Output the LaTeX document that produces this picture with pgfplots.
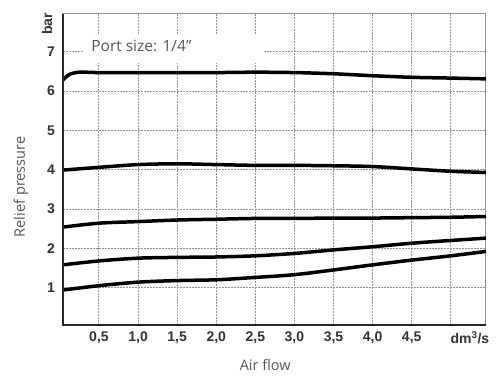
\documentclass[border=0pt]{standalone}
\usepackage{pgfplots}
\pgfplotsset{compat=1.18}
\usepackage{fontspec}
\setmainfont{Open Sans}
\newfontfamily\tickfont{Liberation Sans}
\definecolor{gridc}{HTML}{9A9090}
\definecolor{tickc}{HTML}{333333}
\definecolor{labc}{HTML}{555555}
\begin{document}
\begin{tikzpicture}[x=1pt,y=1pt]
\useasboundingbox (0,0) rectangle (498,381);
\begin{axis}[
  at={(63pt,56pt)}, anchor=south west,
  scale only axis, width=423pt, height=311pt,
  clip=false,
  xmin=0.04, xmax=5.45, ymin=0.05, ymax=7.96,
  xtick={0.5,1,1.5,2,2.5,3,3.5,4,4.5,5},
  xticklabels={{0,5},{1,0},{1,5},{2,0},{2,5},{3,0},{3,5},{4,0},{4,5},{}},
  ytick={1,2,3,4,5,6,7},
  yticklabels={1,2,3,4,5,6,7},
  major tick length=0pt,
  grid=major,
  grid style={gridc, line width=1pt, dash pattern=on 2pt off 1pt},
  axis line style={gridc, line width=1pt},
  tick label style={font=\tickfont\bfseries\fontsize{14}{14}\selectfont, text=tickc},
  xticklabel style={anchor=center, yshift=-13pt},
  yticklabel style={anchor=center, xshift=-12pt},
  xlabel={Air flow}, ylabel={Relief pressure},
  label style={font=\fontsize{14.5}{14.5}\selectfont, text=labc},
  xlabel style={at={(rel axis cs:0.478,0)}, anchor=center, yshift=-40pt},
  ylabel style={at={(rel axis cs:0,0.444)}, anchor=center, yshift=42pt},
]
\addplot[black, line width=3.5pt, smooth, tension=0.5] coordinates {
(0.04,6.28) (0.12,6.42) (0.25,6.48) (0.5,6.47) (1.0,6.47) (1.5,6.47) (2.0,6.47) (2.5,6.48) (3.0,6.47) (3.5,6.44) (4.0,6.39) (4.5,6.35) (5.0,6.33) (5.45,6.31)};
\addplot[black, line width=3.5pt, smooth, tension=0.5] coordinates {
(0.04,3.99) (0.5,4.06) (1.0,4.13) (1.5,4.15) (2.0,4.13) (2.5,4.11) (3.0,4.11) (3.5,4.10) (4.0,4.08) (4.5,4.02) (5.0,3.96) (5.45,3.93)};
\addplot[black, line width=3.5pt, smooth, tension=0.5] coordinates {
(0.04,2.54) (0.5,2.64) (1.0,2.68) (1.5,2.72) (2.0,2.74) (2.5,2.76) (3.0,2.76) (3.5,2.77) (4.0,2.77) (4.5,2.78) (5.0,2.79) (5.45,2.81)};
\addplot[black, line width=3.5pt, smooth, tension=0.5] coordinates {
(0.04,1.58) (0.5,1.68) (1.0,1.75) (1.5,1.77) (2.0,1.78) (2.5,1.81) (3.0,1.87) (3.5,1.96) (4.0,2.04) (4.5,2.13) (5.0,2.20) (5.45,2.26)};
\addplot[black, line width=3.5pt, smooth, tension=0.5] coordinates {
(0.04,0.94) (0.5,1.05) (1.0,1.14) (1.5,1.18) (2.0,1.20) (2.5,1.26) (3.0,1.33) (3.5,1.45) (4.0,1.58) (4.5,1.70) (5.0,1.81) (5.45,1.92)};
\fill[white] (axis cs:0.29,6.72) rectangle (axis cs:2.60,7.43);
\node[anchor=west, text=labc, font=\fontsize{15.5}{15.5}\selectfont, inner sep=0pt] at (axis cs:0.40,7.15) {Port size: 1/4"};
\draw[black!85, line width=1.6pt] (rel axis cs:0,1) -- (rel axis cs:0,0) -- (rel axis cs:1,0);
\node[rotate=90, font=\tickfont\bfseries\fontsize{14}{14}\selectfont, text=tickc, inner sep=0pt] at ([xshift=-16pt]rel axis cs:0,0.968) {bar};
\node[font=\tickfont\bfseries\fontsize{14}{14}\selectfont, text=tickc, inner sep=0pt] at ([yshift=-13pt]rel axis cs:0.962,0) {dm\textsuperscript{3}/s};
\end{axis}
\end{tikzpicture}
\end{document}
